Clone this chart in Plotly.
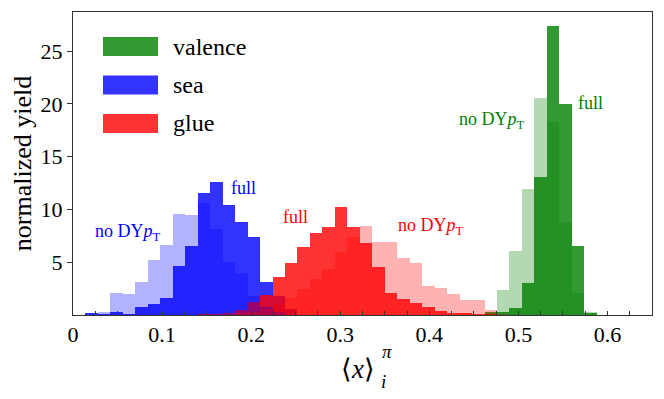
import plotly.graph_objects as go

# histogram bins: width 0.014, bin k covers [k*0.014, (k+1)*0.014]
BIN_WIDTH = 0.014

# normalized yields, with the index of the first bin
valence_full_start = 33
valence_full = [0.3, 0.33, 0.7, 3.07, 13.1, 27.4, 19.96, 6.54, 0.23]
valence_nody_start = 33
valence_nody = [0.15, 2.38, 6.1, 11.94, 20.6, 18.3, 8.85, 2.1, 0.3]

sea_full_start = 1
sea_full = [0.15, 0.05, 0.3, 0.1, 0.8, 1.0, 1.6, 4.65, 6.54, 11.6, 12.57,
            10.4, 8.85, 7.36, 3.17, 1.8, 0.6]
sea_nody_start = 1
sea_nody = [0.1, 0.28, 2.06, 2.0, 3.17, 5.2, 6.64, 9.6, 9.5, 10.6, 8.15,
            5.0, 3.96, 1.8, 0.8, 0.3]

glue_full_start = 10
glue_full = [0.1, 0.1, 0.2, 0.5, 1.27, 1.9, 3.58, 4.9, 6.4, 7.74, 8.3, 10.2,
             8.37, 6.86, 4.5, 2.06, 1.52, 1.18, 0.8, 0.42, 0.2, 0.15, 0.1, 0.1]
glue_nody_start = 13
glue_nody = [0.2, 0.3, 0.6, 1.0, 1.6, 2.5, 3.4, 4.4, 6.0, 7.4, 8.47, 6.95,
             6.95, 5.44, 4.9, 2.79, 2.6, 2.0, 1.43, 1.43, 0.5, 0.1]

legend_labels = ["valence", "sea", "glue"]
x_ticks = [0, 0.1, 0.2, 0.3, 0.4, 0.5, 0.6]
y_ticks = [5, 10, 15, 20, 25]

GREEN, BLUE, RED = (0, 128, 0), (0, 0, 255), (255, 0, 0)
FONT = "Liberation Serif, serif"


def rgba(c, a):
    return "rgba(%d,%d,%d,%s)" % (c[0], c[1], c[2], a)


def hist_trace(start, heights, color, alpha):
    centers = [(start + i + 0.5) * BIN_WIDTH for i in range(len(heights))]
    return go.Bar(
        x=centers, y=heights, width=BIN_WIDTH,
        marker=dict(color=rgba(color, alpha), line=dict(width=0)),
        showlegend=False, hoverinfo="skip",
    )


fig = go.Figure()
for start, h, c in [(valence_full_start, valence_full, GREEN),
                    (sea_full_start, sea_full, BLUE),
                    (glue_full_start, glue_full, RED)]:
    fig.add_trace(hist_trace(start, h, c, 0.8))
for start, h, c in [(valence_nody_start, valence_nody, GREEN),
                    (sea_nody_start, sea_nody, BLUE),
                    (glue_nody_start, glue_nody, RED)]:
    fig.add_trace(hist_trace(start, h, c, 0.3))

# the page body adds an 8px margin, so the figure is made 8px smaller
# and the plot area is placed in window pixels (73..652, 12..315)
OFF = 8
W, H = 664 - OFF, 399 - OFF
X0, X1, Y0, Y1 = 73, 652, 12, 315
PW, PH = X1 - X0, Y1 - Y0


def px(x, y):
    # window pixels -> paper coordinates
    return (x - X0) / PW, (Y1 - y) / PH


# hand-drawn legend with wide patches
for i, (lab, c) in enumerate(zip(legend_labels, [GREEN, BLUE, RED])):
    yc = 46.5 + i * 38.5
    x0, y0 = px(103, yc - 9.5)
    x1, y1 = px(158, yc + 9.5)
    fig.add_shape(type="rect", xref="paper", yref="paper", x0=x0, x1=x1,
                  y0=y1, y1=y0, fillcolor=rgba(c, 0.8), line=dict(width=0))
    tx, ty = px(171, yc)
    fig.add_annotation(xref="paper", yref="paper", x=tx, y=ty, text=lab,
                       showarrow=False, xanchor="left", yanchor="middle",
                       font=dict(family=FONT, size=24, color="black"))

nody = "no DY<i>p</i><sub>T</sub>"
labels = [
    (243, 188, "full", "blue"),
    (128, 232, nody, "blue"),
    (295, 217, "full", "red"),
    (431, 226, nody, "red"),
    (492, 120, nody, "green"),
    (590, 103, "full", "green"),
]
for x, y, t, c in labels:
    ax, ay = px(x, y)
    fig.add_annotation(xref="paper", yref="paper", x=ax, y=ay, text=t,
                       showarrow=False, xanchor="center", yanchor="middle",
                       font=dict(family=FONT, size=18, color=c))

# x-axis title <x>_i^pi
for x, y, t, s in [(358, 369, "⟨<i>x</i>⟩", 27),
                   (387, 351, "<i>π</i>", 19),
                   (384, 381, "<i>i</i>", 19)]:
    ax, ay = px(x, y)
    fig.add_annotation(xref="paper", yref="paper", x=ax, y=ay, text=t,
                       showarrow=False, xanchor="center", yanchor="middle",
                       font=dict(family=FONT, size=s, color="black"))

fig.update_layout(
    barmode="overlay", bargap=0,
    width=W, height=H,
    margin=dict(l=X0 - OFF, r=W - (X1 - OFF), t=Y0 - OFF, b=H - (Y1 - OFF),
                autoexpand=False),
    plot_bgcolor="white", paper_bgcolor="white",
    font=dict(family=FONT, color="black"),
    showlegend=False,
)
fig.update_xaxes(
    range=[0, 0.65], tickvals=x_ticks, ticktext=[str(v) for v in x_ticks],
    ticks="inside", ticklen=4, tickcolor="#333",
    minor=dict(dtick=0.025, ticks="inside", ticklen=4, tickcolor="#333"),
    tickfont=dict(family=FONT, size=22), showgrid=False, zeroline=False,
    showline=True, mirror=True, linecolor="#333", linewidth=1,
    automargin=False,
)
fig.update_yaxes(
    range=[0, 28.7], tickvals=y_ticks, ticks="outside", ticklen=5,
    tickcolor="#333", tickfont=dict(family=FONT, size=22), showgrid=False,
    zeroline=False, showline=True, mirror=True, linecolor="#333", linewidth=1,
    title=dict(text="normalized yield", font=dict(family=FONT, size=26),
               standoff=6),
    automargin=False,
)

fig.write_html("out.html")
